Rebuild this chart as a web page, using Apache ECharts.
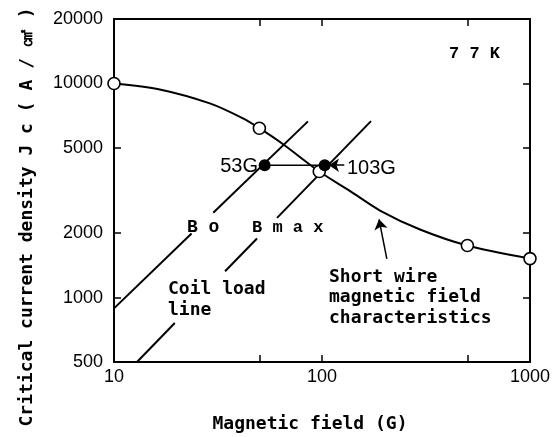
<!DOCTYPE html>
<html><head><meta charset="utf-8">
<script src="https://cdn.jsdelivr.net/npm/echarts@6/dist/echarts.min.js"></script>
<style>html,body{margin:0;padding:0;background:#fff}#c{width:555px;height:437px}</style>
</head><body><div id="c"></div>
<script>
// ---- data ----
const xTicks = [10, 50, 100, 500, 1000];
const xLabels = [10, 100, 1000];
const yTicks = [500, 1000, 2000, 5000, 10000, 20000];
const yLabels = [500, 1000, 2000, 5000, 10000, 20000];
const curve = [[10,10000],[16.6,9380],[28.9,8070],[41.7,6870],[50,6180],[65,5200],[97,3880],[136,3150],[190,2550],[296,2080],[500,1750],[1000,1520]];
const measured = [[10,10000],[50,6180],[97,3880],[500,1750],[1000,1520]];
const boLine = [[[10,890],[23.6,1990]],[[30,2490],[85.6,6650]]];
const bmaxLine = [[[12.9,500],[19.6,760]],[[34.2,1326],[48.7,1888]],[[60.8,2357],[172,6670]]];
const operating = [[53,4150],[103,4150]];
const arrow103 = [[128,4150],[108,4150]];
const arrowShort = [[205,1517],[188,2320]];

const INK = '#000';
const MONO = '"DejaVu Sans Mono", monospace';
const chart = echarts.init(document.getElementById('c'), null, {renderer:'canvas'});
const fmt = v => String(Math.round(v));
function logAxis(pos, min, max, ticks, labels, isX){
  return {
    type:'log', logBase:10, min:min, max:max, position:pos,
    axisLine:{show:true, onZero:false, lineStyle:{color:INK, width:2}},
    axisTick:{show:true, inside:true, length:7, customValues:ticks, lineStyle:{color:INK, width:1.5}},
    axisLabel: labels ? {show:true, customValues:labels, formatter:fmt, color:INK,
      fontFamily:'"Liberation Sans", Arial, sans-serif', fontSize:18, margin: isX?6:11} : {show:false},
    splitLine:{show:false}, minorTick:{show:false}
  };
}
const series = [];
series.push({type:'line', data:curve, smooth:0.3, showSymbol:false, symbol:'none',
  lineStyle:{color:INK, width:2}, silent:true, z:2});
boLine.forEach(seg => series.push({type:'line', data:seg, showSymbol:false, symbol:'none',
  lineStyle:{color:INK, width:2}, silent:true, z:2}));
bmaxLine.forEach(seg => series.push({type:'line', data:seg, showSymbol:false, symbol:'none',
  lineStyle:{color:INK, width:2}, silent:true, z:2}));
series.push({type:'line', data:operating, showSymbol:false, symbol:'none',
  lineStyle:{color:INK, width:1.5}, silent:true, z:2,
  markLine:{silent:true, symbol:['none','arrow'], symbolSize:10, label:{show:false},
    lineStyle:{color:INK, width:1.5, type:'solid', opacity:1},
    emphasis:{disabled:true},
    data:[[{coord:arrow103[0]},{coord:arrow103[1]}],[{coord:arrowShort[0]},{coord:arrowShort[1]}]]}});
series.push({type:'scatter', data:measured, symbol:'circle', symbolSize:12,
  itemStyle:{color:'#fff', borderColor:INK, borderWidth:1.6, opacity:1}, silent:true, z:3});
series.push({type:'scatter', data:operating, symbol:'circle', symbolSize:12,
  itemStyle:{color:INK, opacity:1}, silent:true, z:4});

const txt = (x,y,text,opt) => Object.assign({type:'text', x:x, y:y, silent:true,
  style:Object.assign({text:text, fill:INK}, opt)});
chart.setOption({
  animation:false,
  backgroundColor:'#fff',
  grid:{left:114, top:19, width:416, height:343, containLabel:false},
  xAxis:[logAxis('bottom',10,1000,xTicks,xLabels,true), logAxis('top',10,1000,xTicks,null,true)],
  yAxis:[logAxis('left',500,20000,yTicks,yLabels,false), logAxis('right',500,20000,yTicks,null,false)],
  series:series,
  graphic:[
    txt(258,166,'53G',{font:'20px "Liberation Sans", Arial, sans-serif', align:'right', verticalAlign:'middle'}),
    txt(347,168,'103G',{font:'20px "Liberation Sans", Arial, sans-serif', align:'left', verticalAlign:'middle'}),
    txt(449,54,'7 7 K',{font:'bold 17px "Liberation Mono", monospace', align:'left', verticalAlign:'middle'}),
    txt(187,227,'B o',{font:'bold 18px "Liberation Mono", monospace', align:'left', verticalAlign:'middle'}),
    txt(252,228,'B m a x',{font:'bold 17px "Liberation Mono", monospace', align:'left', verticalAlign:'middle'}),
    txt(168,279,'Coil load\nline',{font:'bold 18px '+MONO, align:'left', verticalAlign:'top', lineHeight:21}),
    txt(329,267,'Short wire\nmagnetic field\ncharacteristics',{font:'bold 18px '+MONO, align:'left', verticalAlign:'top', lineHeight:20.5}),
    txt(310,424,'Magnetic field (G)',{font:'bold 18px '+MONO, align:'center', verticalAlign:'middle'}),
    {type:'text', x:27, y:217, rotation:Math.PI/2, silent:true,
      style:{text:'Critical current density J c ( A / ㎠ )', fill:INK, font:'bold 18px '+MONO, align:'center', verticalAlign:'middle'}}
  ]
});
</script></body></html>
